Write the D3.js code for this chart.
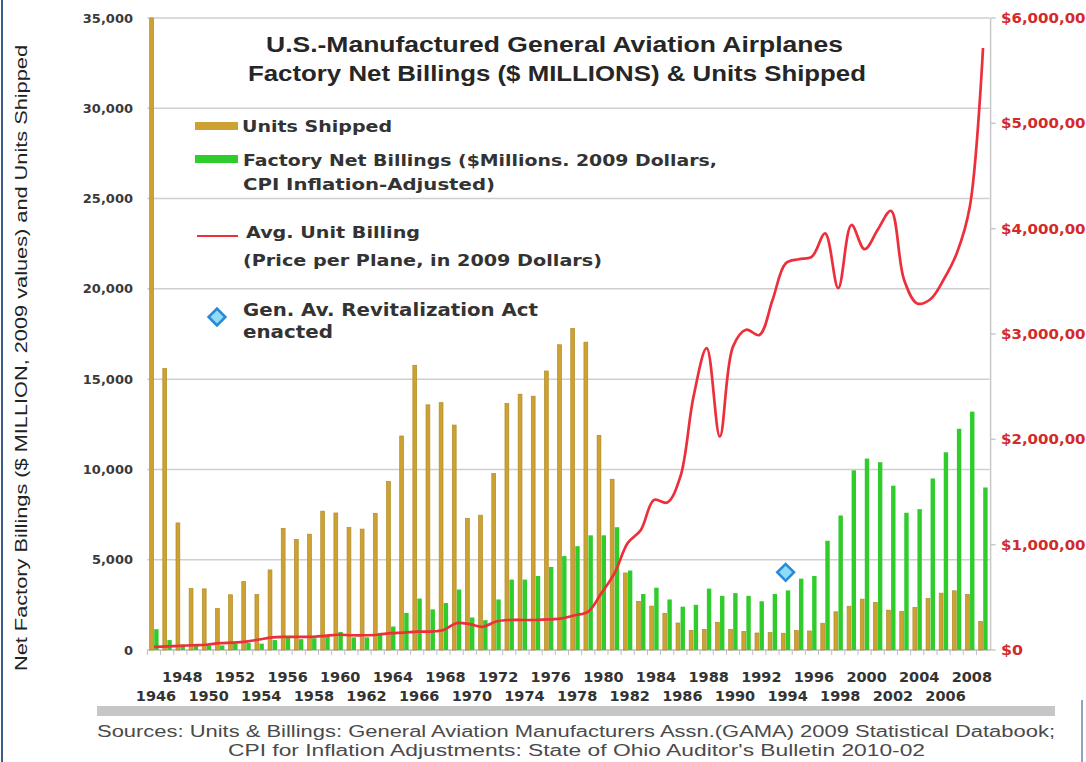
<!DOCTYPE html>
<html><head><meta charset="utf-8">
<script src="https://cdn.jsdelivr.net/npm/d3@7/dist/d3.min.js"></script>
<style>html,body{margin:0;padding:0;background:#fff;overflow:hidden}</style>
</head><body><svg id="c" width="1086" height="762"></svg>
<script>
const years = [1946,1947,1948,1949,1950,1951,1952,1953,1954,1955,1956,1957,1958,1959,1960,1961,1962,1963,1964,1965,
1966,1967,1968,1969,1970,1971,1972,1973,1974,1975,1976,1977,1978,1979,1980,1981,1982,1983,1984,1985,
1986,1987,1988,1989,1990,1991,1992,1993,1994,1995,1996,1997,1998,1999,2000,2001,2002,2003,2004,2005,
2006,2007,2008,2009];
const unitsShipped = [35000,15594,7037,3405,3386,2302,3058,3788,3071,4434,6738,6118,6414,7689,7588,6778,6697,7569,9336,11852,
15768,13577,13698,12457,7292,7466,9774,13646,14166,14056,15451,16904,17811,17048,11877,9457,4266,2691,2431,2029,
1495,1085,1143,1535,1144,1021,941,964,928,1077,1053,1482,2115,2421,2816,2634,2207,2137,2355,2857,
3147,3279,3079,1585];
const netBillings = [1150,550,300,250,250,250,350,400,350,550,700,600,650,800,1000,700,700,950,1300,2050,
2850,2250,2600,3350,1800,1650,2800,3900,3900,4100,4600,5200,5750,6350,6350,6800,4400,3100,3450,2800,
2400,2500,3400,3000,3150,3000,2700,3100,3300,3950,4100,6050,7450,9950,10600,10400,9100,7600,7800,9500,
10950,12250,13200,9000];
const avgUnitBilling = [30000,35000,40000,45000,50000,65000,70000,80000,100000,120000,125000,125000,125000,135000,145000,140000,140000,145000,160000,165000,
175000,175000,190000,255000,245000,220000,270000,285000,285000,285000,290000,300000,330000,365000,540000,730000,1015000,1140000,1425000,1400000,
1645000,2405000,2865000,2025000,2880000,3040000,2990000,3320000,3670000,3710000,3735000,3955000,3435000,4035000,3805000,3990000,4170000,3515000,3290000,3330000,
3515000,3765000,4210000,5715000];
const actEvent = {year: 1994, value: 4300};
const leftTicks = [0,5000,10000,15000,20000,25000,30000,35000];
const rightTicks = [0,1000000,2000000,3000000,4000000,5000000,6000000];
const xLabelsTop = [1948,1952,1956,1960,1964,1968,1972,1976,1980,1984,1988,1992,1996,2000,2004,2008];
const xLabelsBottom = [1946,1950,1954,1958,1962,1966,1970,1974,1978,1982,1986,1990,1994,1998,2002,2006];

const svg = d3.select('#c');
const X0 = 147.4, X1 = 989.6, YT = 18, YB = 650;
const x = d3.scaleBand().domain(years).range([X0, X1]).paddingInner(0.3).paddingOuter(0.15);
const xs = d3.scaleBand().domain(['u','b']).range([0, x.bandwidth()]).paddingInner(0.08);
const yL = d3.scaleLinear().domain([0, 35000]).range([YB, YT]);
const yR = d3.scaleLinear().domain([0, 6000000]).range([YB, YT]);

const boldV = "'DejaVu Sans', Verdana, sans-serif";
const arial = "'Liberation Sans', Arial, sans-serif";

// frame lines
svg.append('line').attr('x1',2).attr('x2',2).attr('y1',0).attr('y2',762).attr('stroke','#3a5a8c').attr('stroke-width',2);
svg.append('line').attr('x1',1082).attr('x2',1082).attr('y1',700).attr('y2',762).attr('stroke','#6a84b0').attr('stroke-width',1.5);

// gridlines
svg.append('g').selectAll('line').data(leftTicks.filter(d=>d>0)).join('line')
  .attr('x1', X0).attr('x2', X1).attr('y1', d=>yL(d)).attr('y2', d=>yL(d))
  .attr('stroke', '#cfcfcf').attr('stroke-width', 1.5);

// right axis line + ticks
svg.append('line').attr('x1',X1+1).attr('x2',X1+1).attr('y1',YT).attr('y2',YB).attr('stroke','#c8c8c8').attr('stroke-width',1.5);
svg.append('g').selectAll('line').data(rightTicks).join('line')
  .attr('x1', X1+1).attr('x2', X1+6).attr('y1', d=>yR(d)).attr('y2', d=>yR(d)).attr('stroke','#c8c8c8').attr('stroke-width',1.5);

// baseline and ticks
svg.append('line').attr('x1',X0).attr('x2',X1+1).attr('y1',YB).attr('y2',YB).attr('stroke','#bdbdbd').attr('stroke-width',1.5);
svg.append('g').selectAll('line').data(years).join('line')
  .attr('x1', d=>x(d)-x.step()*x.paddingInner()/2).attr('x2', d=>x(d)-x.step()*x.paddingInner()/2)
  .attr('y1', YB).attr('y2', YB+5).attr('stroke','#bdbdbd').attr('stroke-width',1);

// bars
const gold = '#cda232', green = '#30cc2c';
svg.append('g').selectAll('rect').data(years).join('rect')
  .attr('x', (d)=>x(d)+xs('u')+0.3).attr('width', xs.bandwidth()-0.6)
  .attr('y', (d,i)=>yL(Math.min(unitsShipped[i],35000))).attr('height', (d,i)=>YB-yL(Math.min(unitsShipped[i],35000)))
  .attr('fill', gold).attr('stroke','#b08a26').attr('stroke-width',0.7);
svg.append('g').selectAll('rect').data(years).join('rect')
  .attr('x', (d)=>x(d)+xs('b')).attr('width', xs.bandwidth())
  .attr('y', (d,i)=>yL(netBillings[i])).attr('height', (d,i)=>YB-yL(netBillings[i]))
  .attr('fill', green);

// red line
const line = d3.line().x((d,i)=>x(years[i])+x.bandwidth()/2).y(d=>yR(d)).curve(d3.curveCatmullRom.alpha(0.5));
svg.append('path').datum(avgUnitBilling).attr('d', line).attr('fill','none').attr('stroke','#ec2f3b').attr('stroke-width',2.7).attr('stroke-linejoin','round');

// diamond marker
function diamond(g, cx, cy){
  g.append('path').attr('d', d3.symbol(d3.symbolSquare, 140)())
   .attr('transform', `translate(${cx},${cy}) rotate(45)`)
   .attr('fill','#8fdcf5').attr('stroke','#2a8ad8').attr('stroke-width',2.6);
}
diamond(svg, x(actEvent.year)+x.bandwidth()/2, yL(actEvent.value));

// left axis labels
svg.append('g').selectAll('text').data(leftTicks).join('text')
  .attr('x', 133).attr('y', d=>yL(d)+4.5).attr('text-anchor','end')
  .attr('font-family', boldV).attr('font-weight','bold').attr('font-size',13).attr('fill','#3a3a3a')
  .text(d=>d3.format(',')(d));

// right axis labels
svg.append('g').selectAll('text').data(rightTicks).join('text')
  .attr('x', 1001).attr('y', d=>yR(d)+5).attr('text-anchor','start')
  .attr('font-family', boldV).attr('font-weight','bold').attr('font-size',13.5).attr('fill','#d42a2a')
  .attr('textLength', d=>d===0?22:95).attr('lengthAdjust','spacingAndGlyphs')
  .text(d=>d3.format('$,')(d));

// x labels
svg.append('g').selectAll('text').data(xLabelsTop).join('text')
  .attr('x', d=>x(d)+x.bandwidth()/2+2).attr('y', 682).attr('text-anchor','middle')
  .attr('font-family', boldV).attr('font-weight','bold').attr('font-size',14.5).attr('fill','#333')
  .text(d=>d);
svg.append('g').selectAll('text').data(xLabelsBottom).join('text')
  .attr('x', d=>x(d)+x.bandwidth()/2+2).attr('y', 701).attr('text-anchor','middle')
  .attr('font-family', boldV).attr('font-weight','bold').attr('font-size',14.5).attr('fill','#333')
  .text(d=>d);

// left axis title
svg.append('text').attr('transform','translate(27,358) rotate(-90)').attr('text-anchor','middle')
  .attr('font-family', arial).attr('font-size',17).attr('fill','#222')
  .attr('textLength',626).attr('lengthAdjust','spacingAndGlyphs')
  .text('Net Factory Billings ($ MILLION, 2009 values) and Units Shipped');

// title
function txt(s, x0, y0, len, size, fam, weight, fill){
  return svg.append('text').attr('x',x0).attr('y',y0).attr('font-family',fam).attr('font-weight',weight||'normal')
   .attr('font-size',size).attr('fill',fill||'#2a2a2a').attr('textLength',len).attr('lengthAdjust','spacingAndGlyphs').text(s);
}
txt('U.S.-Manufactured General Aviation Airplanes', 266, 52, 577, 21.5, arial, 'bold', '#262626');
txt('Factory Net Billings ($ MILLIONS) & Units Shipped', 248, 81, 618, 21.5, arial, 'bold', '#262626');

// legend
svg.append('rect').attr('x',195).attr('y',122).attr('width',43).attr('height',8).attr('fill',gold);
txt('Units Shipped', 242, 132, 150, 16, boldV, 'bold', '#333');
svg.append('rect').attr('x',195).attr('y',155).attr('width',43).attr('height',8).attr('fill',green);
txt('Factory Net Billings ($Millions. 2009 Dollars,', 243, 166, 474, 16, boldV, 'bold', '#333');
txt('CPI Inflation-Adjusted)', 243, 190, 252, 16, boldV, 'bold', '#333');
svg.append('line').attr('x1',197).attr('x2',238).attr('y1',236).attr('y2',236).attr('stroke','#ec2f3b').attr('stroke-width',2.2);
txt('Avg. Unit Billing', 246, 238, 174, 16, boldV, 'bold', '#333');
txt('(Price per Plane, in 2009 Dollars)', 243, 266, 359, 16, boldV, 'bold', '#333');
diamond(svg, 217, 317);
txt('Gen. Av. Revitalization Act', 243, 316, 295, 17.5, boldV, 'bold', '#333');
txt('enacted', 243, 338, 90, 17.5, boldV, 'bold', '#333');

// footer
svg.append('rect').attr('x',97).attr('y',706).attr('width',958).attr('height',10).attr('fill','#c6c6c6');
txt('Sources: Units & Billings: General Aviation Manufacturers Assn.(GAMA) 2009 Statistical Databook;', 97, 737, 958, 16, "'Liberation Sans Narrow', 'Liberation Sans', Arial, sans-serif", 'normal', '#4a4a4a');
txt("CPI for Inflation Adjustments: State of Ohio Auditor's Bulletin 2010-02", 228, 756, 697, 16, "'Liberation Sans Narrow', 'Liberation Sans', Arial, sans-serif", 'normal', '#4a4a4a');
</script></body></html>
